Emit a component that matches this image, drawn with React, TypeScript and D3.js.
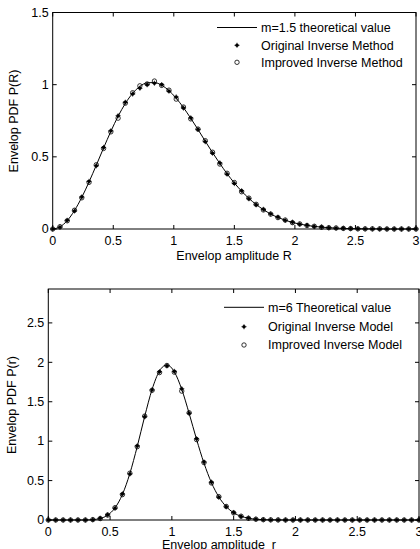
import React from "react";
import * as d3 from "d3";

// sample grid (r) shared by both panels
const rGrid = [
	0, 0.06, 0.12, 0.18, 0.24, 0.3, 0.36, 0.42, 0.48, 0.54, 0.6, 0.66, 0.72, 0.78, 0.84, 0.9, 0.96,
	1.02, 1.08, 1.14, 1.2, 1.26, 1.32, 1.38, 1.44, 1.5, 1.56, 1.62, 1.68, 1.74, 1.8, 1.86, 1.92, 1.98,
	2.04, 2.1, 2.16, 2.22, 2.28, 2.34, 2.4, 2.46, 2.52, 2.58, 2.64, 2.7, 2.76, 2.82, 2.88, 2.94, 3.0,
];

// top panel, m = 1.5
const topTheory = [
	0, 0.015, 0.058, 0.128, 0.219, 0.326, 0.442, 0.561, 0.676, 0.781, 0.87, 0.94, 0.988, 1.013, 1.015, 0.996,
	0.959, 0.906, 0.841, 0.767, 0.689, 0.608, 0.529, 0.454, 0.383, 0.319, 0.262, 0.212, 0.17, 0.134, 0.104,
	0.08, 0.061, 0.045, 0.034, 0.025, 0.018, 0.013, 0.009, 0.006, 0.004, 0.003, 0.002, 0.001, 0.001, 0.001,
	0, 0, 0, 0, 0,
];
const topOriginal = [
	0, 0.013, 0.06, 0.125, 0.222, 0.33, 0.438, 0.565, 0.68, 0.785, 0.878, 0.935, 0.975, 1.0, 1.01, 1.0,
	0.955, 0.915, 0.838, 0.77, 0.69, 0.605, 0.525, 0.458, 0.38, 0.315, 0.265, 0.21, 0.168, 0.136, 0.105,
	0.082, 0.06, 0.047, 0.033, 0.026, 0.017, 0.014, 0.009, 0.006, 0.005, 0.003, 0.002, 0.001, 0.001, 0,
	0, 0, 0, 0, 0,
];
const topImproved = [
	0, 0.016, 0.057, 0.13, 0.216, 0.323, 0.445, 0.558, 0.673, 0.768, 0.872, 0.944, 0.992, 1.005, 1.025, 0.995,
	0.962, 0.9, 0.845, 0.763, 0.692, 0.612, 0.532, 0.45, 0.386, 0.322, 0.258, 0.214, 0.171, 0.132, 0.103,
	0.079, 0.062, 0.044, 0.035, 0.024, 0.019, 0.012, 0.009, 0.007, 0.004, 0.003, 0.001, 0.001, 0.001, 0.001,
	0, 0, 0, 0, 0,
];

// bottom panel, m = 6
const botTheory = [
	0, 0, 0, 0, 0, 0, 0.005, 0.019, 0.061, 0.154, 0.325, 0.59, 0.934, 1.314, 1.657, 1.891, 1.968, 1.879,
	1.657, 1.351, 1.022, 0.721, 0.475, 0.293, 0.17, 0.092, 0.047, 0.023, 0.01, 0.004, 0.002, 0.001, 0, 0,
	0, 0, 0, 0, 0, 0, 0, 0, 0, 0, 0, 0, 0, 0, 0, 0, 0,
];
const botOriginal = [
	0, 0, 0, 0, 0, 0, 0.004, 0.022, 0.066, 0.15, 0.33, 0.585, 0.94, 1.31, 1.65, 1.88, 1.955, 1.885, 1.665,
	1.355, 1.03, 0.735, 0.48, 0.29, 0.168, 0.095, 0.045, 0.024, 0.011, 0.005, 0.002, 0.001, 0, 0, 0, 0, 0,
	0, 0, 0, 0, 0, 0, 0, 0, 0, 0, 0, 0, 0, 0,
];
const botImproved = [
	0, 0, 0, 0, 0, 0, 0.005, 0.018, 0.063, 0.156, 0.322, 0.594, 0.93, 1.318, 1.645, 1.87, 1.96, 1.875, 1.635,
	1.36, 1.02, 0.728, 0.47, 0.296, 0.172, 0.09, 0.048, 0.022, 0.01, 0.004, 0.002, 0.001, 0, 0, 0, 0, 0,
	0, 0, 0, 0, 0, 0, 0, 0, 0, 0, 0, 0, 0, 0,
];

const xTicks = [0, 0.5, 1, 1.5, 2, 2.5, 3];
const topYTicks = [0, 0.5, 1, 1.5];
const botYTicks = [0, 0.5, 1, 1.5, 2, 2.5];

const topLegend = ["m=1.5 theoretical value", "Original Inverse Method", "Improved Inverse Method"];
const botLegend = ["m=6 Theoretical value", "Original Inverse Model", "Improved Inverse Model"];

const FONT = "'Liberation Sans', Arial, sans-serif";
const FS = 12.5;

type PanelProps = {
	x0: number;
	x1: number;
	yBottom: number;
	yTop: number;
	yMax: number;
	yTicks: number[];
	theory: number[];
	original: number[];
	improved: number[];
	legend: string[];
	legendX: number;
	legendRows: number[];
	xLabel: string;
	xLabelPos: [number, number];
	yLabel: string;
	yLabelPos: [number, number];
};

function Dot({ cx, cy }: { cx: number; cy: number }) {
	return (
		<g>
			<circle cx={cx} cy={cy} r={1.7} fill="#000" />
			<line x1={cx - 2.6} x2={cx + 2.6} y1={cy} y2={cy} stroke="#000" strokeWidth={0.7} />
			<line x1={cx} x2={cx} y1={cy - 2.6} y2={cy + 2.6} stroke="#000" strokeWidth={0.7} />
		</g>
	);
}

function Panel(p: PanelProps) {
	const x = d3.scaleLinear().domain([0, 3]).range([p.x0, p.x1]);
	const y = d3.scaleLinear().domain([0, p.yMax]).range([p.yBottom, p.yTop]);
	const line = d3
		.line<number>()
		.x((_, i) => x(rGrid[i]))
		.y((d) => y(d))
		.curve(d3.curveMonotoneX);
	const tl = 4;
	const [lx0, lx1] = [p.legendX, p.legendX + 40];
	const mx = (lx0 + lx1) / 2;

	return (
		<g fontFamily={FONT} fontSize={FS} fill="#000">
			{/* box */}
			<rect x={p.x0} y={p.yTop} width={p.x1 - p.x0} height={p.yBottom - p.yTop} fill="#fff" stroke="#000" strokeWidth={1} />

			{/* ticks */}
			{xTicks.map((t) => (
				<g key={"x" + t}>
					<line x1={x(t)} x2={x(t)} y1={p.yBottom} y2={p.yBottom - tl} stroke="#000" />
					<line x1={x(t)} x2={x(t)} y1={p.yTop} y2={p.yTop + tl} stroke="#000" />
					<text x={x(t)} y={p.yBottom + 16} textAnchor="middle">
						{t}
					</text>
				</g>
			))}
			{p.yTicks.map((t) => (
				<g key={"y" + t}>
					<line x1={p.x0} x2={p.x0 + tl} y1={y(t)} y2={y(t)} stroke="#000" />
					<line x1={p.x1} x2={p.x1 - tl} y1={y(t)} y2={y(t)} stroke="#000" />
					<text x={p.x0 - 4} y={y(t) + 4.3} textAnchor="end">
						{t}
					</text>
				</g>
			))}

			{/* theoretical curve */}
			<path d={line(p.theory) ?? ""} fill="none" stroke="#000" strokeWidth={1} />

			{/* markers */}
			{p.original.map((v, i) => (
				<Dot key={"o" + i} cx={x(rGrid[i])} cy={y(v)} />
			))}
			{p.improved.map((v, i) => (
				<circle key={"c" + i} cx={x(rGrid[i])} cy={y(v)} r={2.2} fill="none" stroke="#000" strokeWidth={0.8} />
			))}

			{/* legend */}
			<line x1={lx0} x2={lx1} y1={p.legendRows[0]} y2={p.legendRows[0]} stroke="#000" />
			<Dot cx={mx} cy={p.legendRows[1]} />
			<circle cx={mx} cy={p.legendRows[2]} r={2.2} fill="none" stroke="#000" strokeWidth={0.8} />
			{p.legend.map((s, i) => (
				<text key={s} x={lx1 + 4} y={p.legendRows[i] + 4.3}>
					{s}
				</text>
			))}

			{/* axis labels */}
			<text x={p.xLabelPos[0]} y={p.xLabelPos[1]} textAnchor="middle" style={{ whiteSpace: "pre" }}>
				{p.xLabel}
			</text>
			<text
				transform={`translate(${p.yLabelPos[0]},${p.yLabelPos[1]}) rotate(-90)`}
				textAnchor="middle"
				dominantBaseline="middle"
			>
				{p.yLabel}
			</text>
		</g>
	);
}

export default function App() {
	return (
		<svg
			width={420}
			height={549}
			style={{ position: "absolute", left: 0, top: 0, background: "#fff" }}
		>
			<rect width={420} height={549} fill="#fff" />
			<Panel
				x0={52.7}
				x1={416}
				yBottom={229}
				yTop={12.5}
				yMax={1.5}
				yTicks={topYTicks}
				theory={topTheory}
				original={topOriginal}
				improved={topImproved}
				legend={topLegend}
				legendX={217}
				legendRows={[27.5, 45.3, 62.3]}
				xLabel="Envelop amplitude R"
				xLabelPos={[234, 259.5]}
				yLabel="Envelop PDF P(R)"
				yLabelPos={[15, 121]}
			/>
			<Panel
				x0={48.3}
				x1={419}
				yBottom={520}
				yTop={289}
				yMax={2.93}
				yTicks={botYTicks}
				theory={botTheory}
				original={botOriginal}
				improved={botImproved}
				legend={botLegend}
				legendX={224}
				legendRows={[307.3, 326.7, 345]}
				xLabel={"Envelop amplitude  r"}
				xLabelPos={[219, 549]}
				yLabel="Envelop PDF P(r)"
				yLabelPos={[13, 405]}
			/>
		</svg>
	);
}
